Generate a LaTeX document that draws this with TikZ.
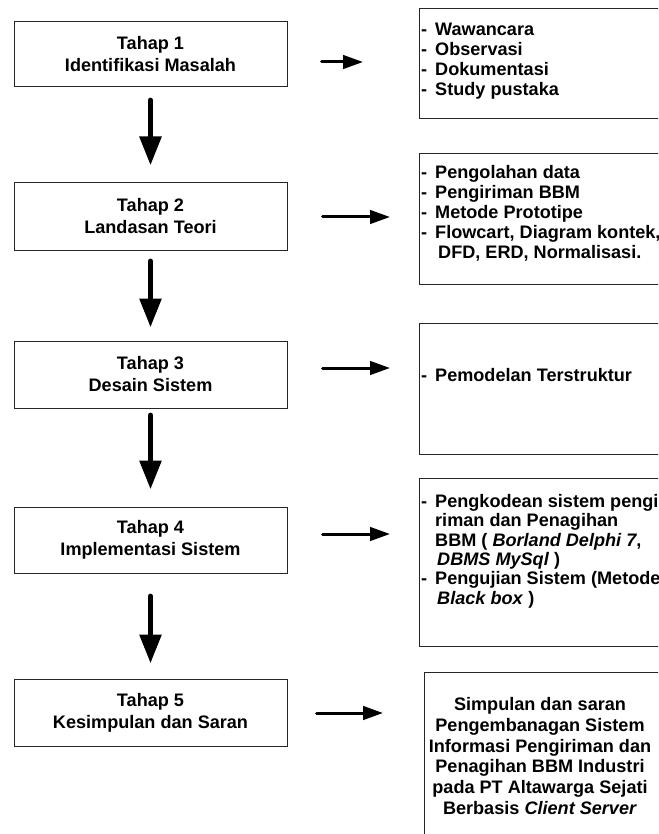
\documentclass[tikz,border=0pt]{standalone}
\usepackage{fontspec}
\setmainfont{Liberation Sans}
\usetikzlibrary{arrows.meta}
\begin{document}
\begin{tikzpicture}[x=1pt,y=-1pt,
  lbox/.style={draw=black!85, line width=1pt, minimum width=273pt, inner sep=0pt, align=center,
    font=\fontsize{18.1}{22}\selectfont\bfseries},
  rbox/.style={draw=black!85, line width=1pt, inner sep=0pt, anchor=north west, minimum width=290pt},
  rtext/.style={anchor=north west, inner sep=0pt, align=left},
  varr/.style={line width=5.7pt, line cap=round, -{Triangle[width=21pt,length=29pt]}},
  harr/.style={line width=3pt, line cap=round, -{Triangle[width=13.5pt,length=20pt]}},
]
\useasboundingbox (0,0) rectangle (658,834);
\clip (0,0) rectangle (658,834);

% left boxes
\node[lbox, minimum height=65pt] (b1) at (150.5,54.5) {Tahap 1\\Identifikasi Masalah};
\node[lbox, minimum height=67pt] (b2) at (150.5,216.5) {Tahap 2\\Landasan Teori};
\node[lbox, minimum height=67pt] (b3) at (150.5,374.5) {Tahap 3\\Desain Sistem};
\node[lbox, minimum height=66pt] (b4) at (150.5,540) {Tahap 4\\Implementasi Sistem};
\node[lbox, minimum height=67pt] (b5) at (150.5,712.5) {Tahap 5\\Kesimpulan dan Saran};

% right boxes
\node[rbox, minimum height=110pt] (r1) at (419,8) {};
\node[rbox, minimum height=131pt] (r2) at (419,153) {};
\node[rbox, minimum height=131pt] (r3) at (419,323) {};
\node[rbox, minimum height=168pt] (r4) at (419,478) {};
\node[rbox, minimum height=200pt] (r5) at (424,672) {};

% right texts
\node[rtext, font=\fontsize{18.1}{20}\selectfont\bfseries] (t1) at (421,23) {%
\makebox[14pt][l]{-}Wawancara\\
\makebox[14pt][l]{-}Observasi\\
\makebox[14pt][l]{-}Dokumentasi\\
\makebox[14pt][l]{-}Study pustaka};

\node[rtext, font=\fontsize{18.1}{19.9}\selectfont\bfseries] (t2) at (421,165.2) {%
\makebox[14pt][l]{-}Pengolahan data\\
\makebox[14pt][l]{-}Pengiriman BBM\\
\makebox[14pt][l]{-}Metode Prototipe\\
\makebox[14pt][l]{-}Flowcart, Diagram kontek,\\
\hspace*{17pt}DFD, ERD, Normalisasi.};

\node[rtext, font=\fontsize{18.1}{20}\selectfont\bfseries] (t3) at (421,368.6) {%
\makebox[14pt][l]{-}Pemodelan Terstruktur};

\node[rtext, font=\fontsize{18.1}{19.4}\selectfont\bfseries] (t4) at (421,494) {%
\makebox[14pt][l]{-}Pengkodean sistem pengi\\
\hspace*{14pt}riman dan Penagihan\\
\hspace*{14pt}BBM ( \textit{Borland Delphi 7},\\
\hspace*{16pt}\textit{DBMS MySql} )\\
\makebox[14pt][l]{-}Pengujian Sistem (Metode\\
\hspace*{16pt}\textit{Black box} )};

\node[anchor=north, inner sep=0pt, align=center, font=\fontsize{18.1}{20.7}\selectfont\bfseries] (t5) at (540,697.5) {%
Simpulan dan saran\\
Pengembanagan Sistem\\
Informasi Pengiriman dan\\
Penagihan BBM Industri\\
pada PT Altawarga Sejati\\
Berbasis \textit{Client Server}};

% vertical arrows
\draw[varr, shorten <=12.9pt, shorten >=17pt] (b1.south) -- (b2.north);
\draw[varr, shorten <=10.9pt, shorten >=13pt] (b2.south) -- (b3.north);
\draw[varr, shorten <=6.9pt, shorten >=17pt] (b3.south) -- (b4.north);
\draw[varr, shorten <=22.9pt, shorten >=15pt] (b4.south) -- (b5.north);

% horizontal arrows
\coordinate (h1s) at (321.5,62);  \coordinate (h1e) at (363,62);
\coordinate (h2s) at (322.5,217); \coordinate (h2e) at (390,217);
\coordinate (h3s) at (322.5,368); \coordinate (h3e) at (390,368);
\coordinate (h4s) at (322.5,534); \coordinate (h4e) at (390,534);
\coordinate (h5s) at (316.5,713); \coordinate (h5e) at (383,713);
\draw[harr] (h1s) -- (h1e);
\draw[harr] (h2s) -- (h2e);
\draw[harr] (h3s) -- (h3e);
\draw[harr] (h4s) -- (h4e);
\draw[harr] (h5s) -- (h5e);
\end{tikzpicture}
\end{document}
